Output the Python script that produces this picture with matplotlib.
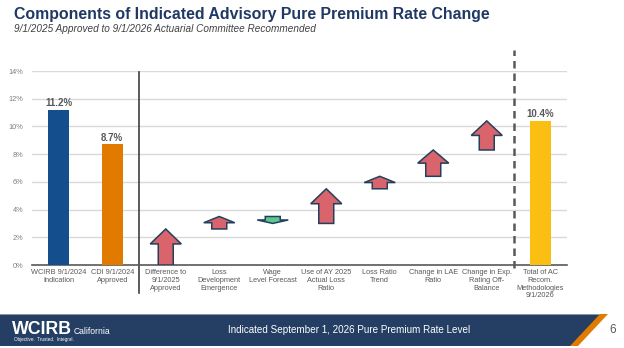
import matplotlib.pyplot as plt
from matplotlib.patches import Polygon, Rectangle

# data
categories = [
    "WCIRB 9/1/2024\nIndication",
    "CDI 9/1/2024\nApproved",
    "Difference to\n9/1/2025\nApproved",
    "Loss\nDevelopment\nEmergence",
    "Wage\nLevel Forecast",
    "Use of AY 2025\nActual Loss\nRatio",
    "Loss Ratio\nTrend",
    "Change in LAE\nRatio",
    "Change in Exp.\nRating Off-\nBalance",
    "Total of AC\nRecom.\nMethodologies\n9/1/2026",
]
bar_idx = [0, 1, 9]
bar_values = [11.2, 8.7, 10.4]
bar_colors = ["#144E8C", "#E07B00", "#FBBF14"]
step_idx = [2, 3, 4, 5, 6, 7, 8]
step_changes = [2.6, 0.9, -0.5, 2.5, 0.9, 1.9, 2.1]
y_ticks = [0, 2, 4, 6, 8, 10, 12, 14]

navy = "#243F63"
grey_txt = "#7F7F7F"

fig = plt.figure(figsize=(6.24, 3.48), dpi=100)
ax = fig.add_axes([32 / 624, 1 - 265 / 348, 535 / 624, 194 / 348])

# bars
bars = ax.bar(bar_idx, bar_values, width=0.4, color=bar_colors, zorder=3)
for b in bars:
    h = b.get_height()
    ax.text(b.get_x() + b.get_width() / 2, h + 0.12, f"{h:.1f}%", ha="center", va="bottom",
            fontsize=7, fontweight="bold", color="#595959", family="Liberation Sans")

# waterfall arrows
level = 0.0
sw, hw = 0.28, 0.58
for x, d in zip(step_idx, step_changes):
    base, tip = level, level + d
    sign = 1 if d > 0 else -1
    h = min(1.08, 0.5 * abs(d)) * sign
    pts = [(x - sw / 2, base), (x - sw / 2, tip - h), (x - hw / 2, tip - h), (x, tip),
           (x + hw / 2, tip - h), (x + sw / 2, tip - h), (x + sw / 2, base)]
    fc = "#D9646B" if d > 0 else "#5CC98C"
    ax.add_patch(Polygon(pts, closed=True, facecolor=fc, edgecolor="#23405F", lw=1.1, zorder=4))
    level = tip

ax.set_xlim(-0.5, 9.5)
ax.set_ylim(0, 14)
ax.set_yticks(y_ticks)
ax.set_yticklabels([f"{v}%" for v in y_ticks])
ax.set_xticks(range(len(categories)))
ax.set_xticklabels(categories, linespacing=1.15)
ax.tick_params(axis="both", length=0, colors=grey_txt, labelsize=5.3)
ax.tick_params(axis="x", pad=3, colors="#595959")
ax.tick_params(axis="y", pad=6)
for lab in ax.get_xticklabels() + ax.get_yticklabels():
    lab.set_family("Liberation Sans")

ax.grid(axis="y", color="#D9D9D9", lw=1, zorder=0)
ax.set_axisbelow(True)
for s in ["top", "right", "left"]:
    ax.spines[s].set_visible(False)
ax.spines["bottom"].set_color("#595959")
ax.spines["bottom"].set_linewidth(1.2)

# separators
trans = ax.get_xaxis_transform()
ax.plot([1.5, 1.5], [-0.144, 0.995], transform=trans, color="#404040", lw=1.2, clip_on=False)
ax.plot([8.5, 8.5], [-0.015, 1.108], transform=trans, color="#595959", lw=1.8,
        ls=(0, (3, 2)), clip_on=False)

# header
fig.text(14 / 624, 1 - 18.5 / 348, "Components of Indicated Advisory Pure Premium Rate Change",
         fontsize=11.4, fontweight="bold", color="#1F3864", family="Liberation Sans")
fig.text(14 / 624, 1 - 32 / 348, "9/1/2025 Approved to 9/1/2026 Actuarial Committee Recommended",
         fontsize=7.2, style="italic", color="#404040", family="Liberation Sans")

# footer band
fig.patches.append(Polygon([(0, 1 - 314 / 348), (608 / 624, 1 - 314 / 348),
                            (578 / 624, 1 - 346 / 348), (0, 1 - 346 / 348)],
                           closed=True, transform=fig.transFigure, facecolor="#E07B00", lw=0))
fig.patches.append(Polygon([(0, 1 - 314 / 348), (600 / 624, 1 - 314 / 348),
                            (570 / 624, 1 - 346 / 348), (0, 1 - 346 / 348)],
                           closed=True, transform=fig.transFigure, facecolor=navy, lw=0))
fig.patches.append(Rectangle((0, 1 - 315 / 348), 600 / 624, 1.2 / 348, transform=fig.transFigure,
                             facecolor="#8A97A8", lw=0))
fig.text(12 / 624, 1 - 334 / 348, "WCIRB", fontsize=12.8, fontweight="heavy", color="white",
         family="Liberation Sans")
fig.text(73.5 / 624, 1 - 334 / 348, "California", fontsize=6.2, color="white", family="Liberation Sans")
fig.text(14 / 624, 1 - 341.5 / 348, "Objective.  Trusted.  Integral.", fontsize=3.3, color="white",
         family="Liberation Sans")
fig.text(349 / 624, 1 - 330 / 348, "Indicated September 1, 2026 Pure Premium Rate Level",
         fontsize=7.1, color="white", ha="center", va="center", family="Liberation Sans")
fig.text(613 / 624, 1 - 330 / 348, "6", fontsize=8.5, color="#595959", ha="center", va="center",
         family="Liberation Sans")

fig.savefig("out.png", dpi=100)
